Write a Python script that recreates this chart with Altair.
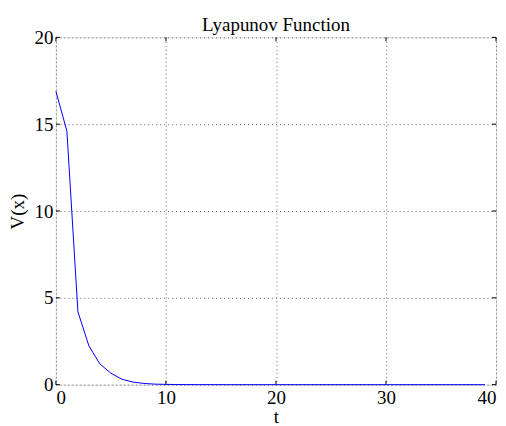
import altair as alt
import pandas as pd

t_vals = list(range(0, 40))
v_vals = [16.9, 14.6, 4.2, 2.23, 1.19, 0.66, 0.31, 0.15, 0.07, 0.03,
          0.015, 0.007, 0.003, 0.0015, 0.0007, 0.0003, 0.0001, 0.0, 0.0, 0.0,
          0.0, 0.0, 0.0, 0.0, 0.0, 0.0, 0.0, 0.0, 0.0, 0.0,
          0.0, 0.0, 0.0, 0.0, 0.0, 0.0, 0.0, 0.0, 0.0, 0.0]
x_ticks = [0, 10, 20, 30, 40]
y_ticks = [0, 5, 10, 15, 20]

W, H = 441, 348
FONT = "Liberation Serif"
FS = 19

df = pd.DataFrame({"t": t_vals, "V": v_vals})
xt = pd.DataFrame({"t": x_ticks})
yt = pd.DataFrame({"V": y_ticks})

xs = alt.Scale(domain=[0, 40], nice=False)
ys = alt.Scale(domain=[0, 20], nice=False)

common = dict(grid=True, gridDash=[1, 3], gridColor="#666", gridWidth=1, ticks=False,
              domain=False, labelFont=FONT, labelFontSize=FS, labelColor="#000",
              titleFont=FONT, titleFontSize=FS, titleFontWeight="normal", titleColor="#000")

line = alt.Chart(df).mark_line(color="#0000ff", strokeWidth=1).encode(
    x=alt.X("t:Q", scale=xs, title="t",
            axis=alt.Axis(values=x_ticks, labelPadding=4, titleBaseline="alphabetic",
                          titleY=38, **common)),
    y=alt.Y("V:Q", scale=ys, title="V(x)",
            axis=alt.Axis(values=y_ticks, labelPadding=3, titlePadding=6, **common)),
)

tk = dict(color="#000", strokeWidth=1)
L = 4
xb = alt.Chart(xt).mark_rule(**tk).encode(x=alt.X("t:Q", scale=xs), y=alt.value(H), y2=alt.value(H - L))
xtp = alt.Chart(xt).mark_rule(**tk).encode(x=alt.X("t:Q", scale=xs), y=alt.value(0), y2=alt.value(L))
yl = alt.Chart(yt).mark_rule(**tk).encode(y=alt.Y("V:Q", scale=ys), x=alt.value(0), x2=alt.value(L))
yr = alt.Chart(yt).mark_rule(**tk).encode(y=alt.Y("V:Q", scale=ys), x=alt.value(W), x2=alt.value(W - L))

chart = alt.layer(line, xb, xtp, yl, yr).properties(
    width=W, height=H,
    title=alt.TitleParams("Lyapunov Function", font=FONT, fontSize=FS, fontWeight="normal",
                          color="#000", offset=-7),
    autosize=alt.AutoSizeParams(type="none"),
    padding={"left": 48, "top": 29, "right": 2, "bottom": 42},
).configure_view(stroke="#000", strokeWidth=1.6).configure(background="white")

chart.save("out.html", embed_options={"renderer": "svg", "actions": False})
